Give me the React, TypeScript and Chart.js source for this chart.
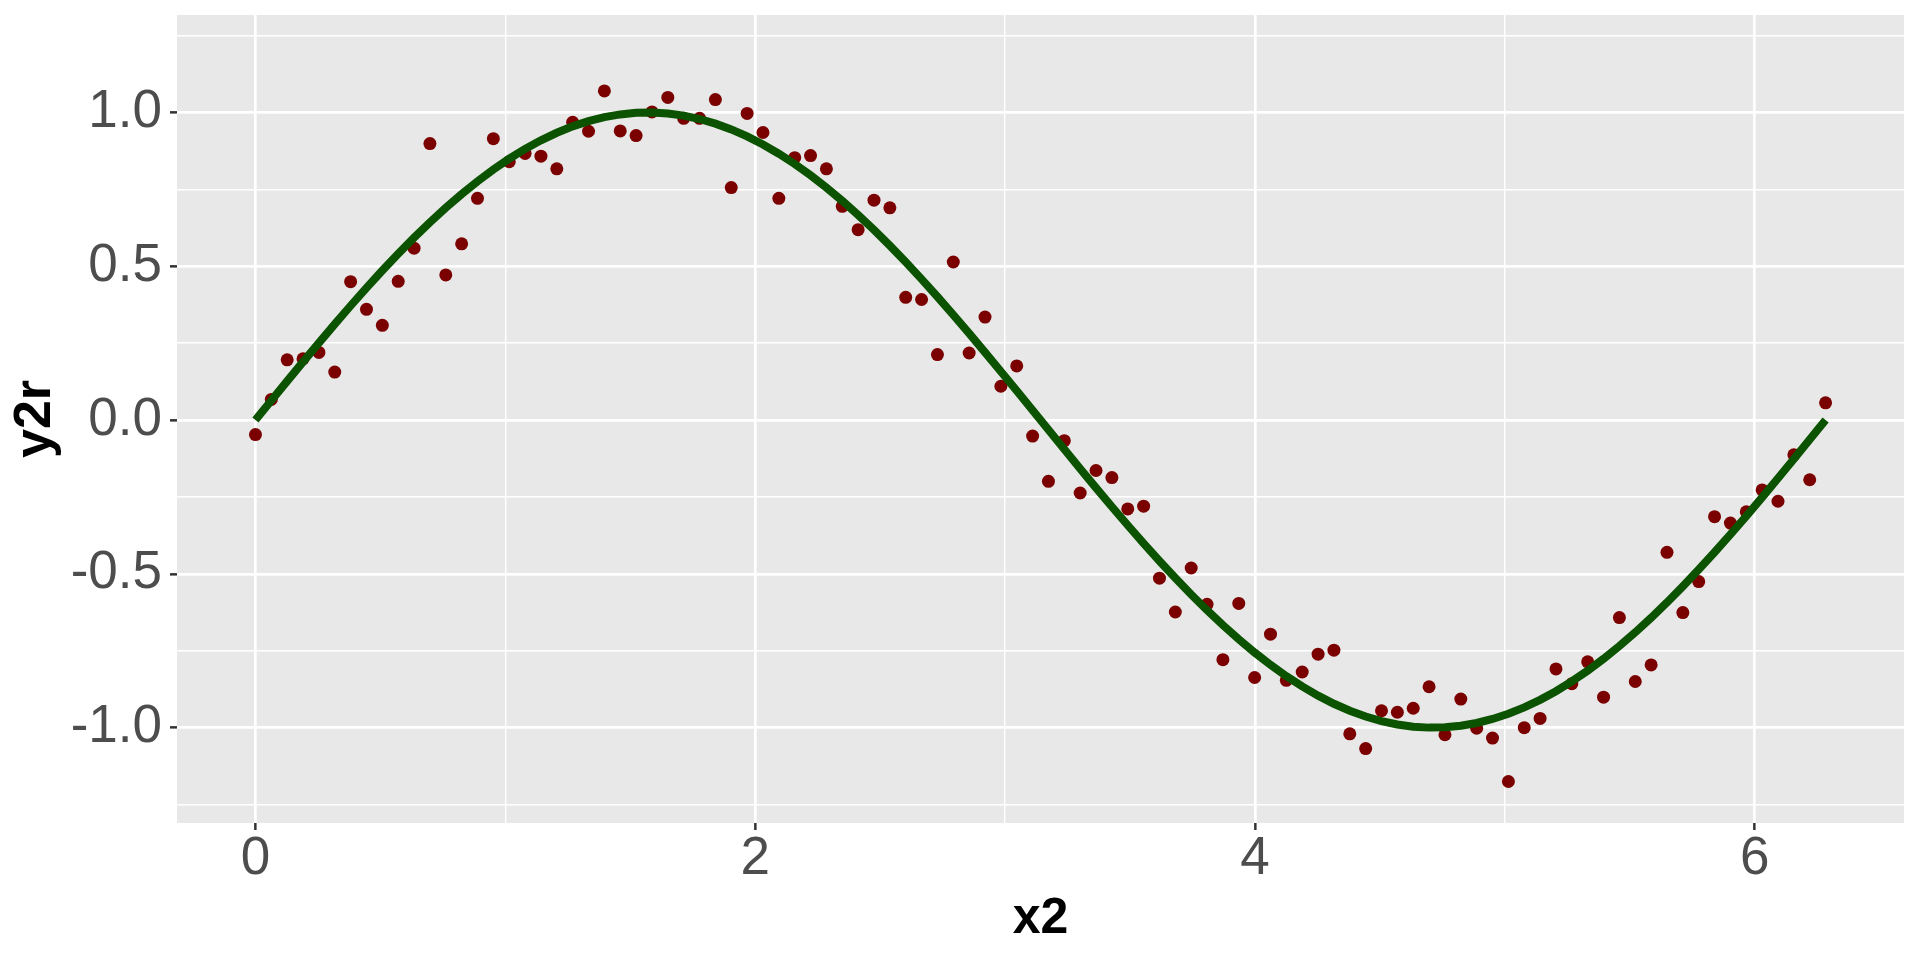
import React, { useEffect, useRef } from "react";
import { Chart, registerables } from "chart.js";

Chart.register(...registerables);

// ---- data ----
const x2: number[] = [
  0, 0.0635, 0.1269, 0.1904, 0.2539, 0.3173, 0.3808, 0.4443, 0.5077, 0.5712,
  0.6347, 0.6981, 0.7616, 0.8251, 0.8885, 0.952, 1.0155, 1.0789, 1.1424, 1.2059,
  1.2693, 1.3328, 1.3963, 1.4597, 1.5232, 1.5867, 1.6501, 1.7136, 1.7771, 1.8405,
  1.904, 1.9675, 2.0309, 2.0944, 2.1579, 2.2213, 2.2848, 2.3483, 2.4117, 2.4752,
  2.5387, 2.6021, 2.6656, 2.7291, 2.7925, 2.856, 2.9195, 2.9829, 3.0464, 3.1099,
  3.1733, 3.2368, 3.3003, 3.3637, 3.4272, 3.4907, 3.5541, 3.6176, 3.6811, 3.7445,
  3.808, 3.8715, 3.9349, 3.9984, 4.0619, 4.1253, 4.1888, 4.2523, 4.3157, 4.3792,
  4.4427, 4.5061, 4.5696, 4.6331, 4.6965, 4.76, 4.8235, 4.8869, 4.9504, 5.0139,
  5.0773, 5.1408, 5.2043, 5.2677, 5.3312, 5.3947, 5.4581, 5.5216, 5.5851, 5.6485,
  5.712, 5.7755, 5.8389, 5.9024, 5.9659, 6.0293, 6.0928, 6.1563, 6.2197, 6.2832,
];

const y2r: number[] = [
  -0.047, 0.067, 0.196, 0.199, 0.22, 0.156, 0.45, 0.36, 0.308, 0.451,
  0.559, 0.899, 0.472, 0.573, 0.721, 0.915, 0.84, 0.867, 0.858, 0.817,
  0.968, 0.939, 1.07, 0.94, 0.925, 1.002, 1.049, 0.981, 0.981, 1.042,
  0.756, 0.997, 0.935, 0.721, 0.853, 0.86, 0.817, 0.695, 0.619, 0.715,
  0.69, 0.399, 0.392, 0.213, 0.514, 0.218, 0.335, 0.11, 0.176, -0.052,
  -0.199, -0.067, -0.237, -0.164, -0.187, -0.289, -0.28, -0.514, -0.624, -0.481,
  -0.599, -0.779, -0.596, -0.837, -0.696, -0.846, -0.819, -0.761, -0.748, -1.02,
  -1.068, -0.945, -0.95, -0.937, -0.867, -1.023, -0.907, -1.002, -1.034, -1.175,
  -1.0, -0.97, -0.809, -0.857, -0.786, -0.901, -0.642, -0.85, -0.796, -0.43,
  -0.626, -0.525, -0.314, -0.335, -0.298, -0.227, -0.264, -0.113, -0.194, 0.056,
];

const fitY: number[] = [
  0, 0.0634, 0.1266, 0.1893, 0.2511, 0.312, 0.3717, 0.4298, 0.4862, 0.5406,
  0.5929, 0.6428, 0.6901, 0.7346, 0.7761, 0.8146, 0.8497, 0.8815, 0.9096, 0.9341,
  0.9549, 0.9718, 0.9848, 0.9938, 0.9989, 0.9999, 0.9969, 0.9898, 0.9788, 0.9638,
  0.945, 0.9224, 0.896, 0.866, 0.8326, 0.7958, 0.7557, 0.7127, 0.6668, 0.6182,
  0.5671, 0.5137, 0.4582, 0.4009, 0.342, 0.2817, 0.2203, 0.158, 0.0951, 0.0317,
  -0.0317, -0.0951, -0.158, -0.2203, -0.2817, -0.342, -0.4009, -0.4582, -0.5137, -0.5671,
  -0.6182, -0.6668, -0.7127, -0.7557, -0.7958, -0.8326, -0.866, -0.896, -0.9224, -0.945,
  -0.9638, -0.9788, -0.9898, -0.9969, -0.9999, -0.9989, -0.9938, -0.9848, -0.9718, -0.9549,
  -0.9341, -0.9096, -0.8815, -0.8497, -0.8146, -0.7761, -0.7346, -0.6901, -0.6428, -0.5929,
  -0.5406, -0.4862, -0.4298, -0.3717, -0.312, -0.2511, -0.1893, -0.1266, -0.0634, 0,
];

const xMajorTicks = [0, 2, 4, 6];
const xMinorTicks = [1, 3, 5];
const yMajorTicks = [-1, -0.5, 0, 0.5, 1];
const yMinorTicks = [-1.25, -0.75, -0.25, 0.25, 0.75, 1.25];
const xLimits = [-0.314, 6.597];
const yLimits = [-1.31, 1.317];
const xTitle = "x2";
const yTitle = "y2r";

// ---- styling ----
const W = 1920;
const H = 960;
const FONT = "'Liberation Sans', Arial, Helvetica, sans-serif";
const PANEL_BG = "#E8E8E8";
const GRID = "#FFFFFF";
const TICK_COLOR = "#333333";
const LABEL_COLOR = "#4D4D4D";
const POINT_COLOR = "#7B0000";
const LINE_COLOR = "#0B5300";

const panelBg = {
  id: "panelBg",
  beforeDraw(chart: any) {
    const { ctx, chartArea: a } = chart;
    ctx.save();
    ctx.fillStyle = PANEL_BG;
    ctx.fillRect(a.left, a.top, a.right - a.left, a.bottom - a.top);
    ctx.restore();
  },
};

const isIn = (arr: number[], v: number) => arr.some((t) => Math.abs(t - v) < 1e-9);

export default function App() {
  const ref = useRef<HTMLCanvasElement | null>(null);

  useEffect(() => {
    if (!ref.current) return;
    const chart = new Chart(ref.current, {
      type: "scatter",
      data: {
        datasets: [
          {
            label: "fit",
            data: x2.map((x, i) => ({ x, y: fitY[i] })),
            showLine: true,
            borderColor: LINE_COLOR,
            borderWidth: 8,
            pointRadius: 0,
            tension: 0,
            fill: false,
          } as any,
          {
            label: "y2r",
            data: x2.map((x, i) => ({ x, y: y2r[i] })),
            backgroundColor: POINT_COLOR,
            borderWidth: 0,
            pointRadius: 6.5,
          },
        ],
      },
      options: {
        responsive: false,
        animation: false,
        devicePixelRatio: 1,
        layout: { padding: { top: 15, right: 16, left: 0, bottom: 0 } },
        plugins: {
          legend: { display: false },
          tooltip: { enabled: false },
        },
        scales: {
          x: {
            type: "linear",
            min: xLimits[0],
            max: xLimits[1],
            afterBuildTicks: (s: any) => {
              s.ticks = [...xMajorTicks, ...xMinorTicks]
                .sort((a, b) => a - b)
                .map((v) => ({ value: v }));
            },
            afterFit: (s: any) => {
              s.height = 137;
              s.paddingLeft = 0;
              s.paddingRight = 0;
            },
            border: { display: false },
            grid: {
              color: GRID,
              lineWidth: (c: any) => (isIn(xMajorTicks, c.tick?.value) ? 2.7 : 1.4),
              tickColor: (c: any) =>
                isIn(xMajorTicks, c.tick?.value) ? TICK_COLOR : "rgba(0,0,0,0)",
              tickLength: 7,
              tickWidth: 2.5,
            },
            ticks: {
              autoSkip: false,
              maxRotation: 0,
              padding: 3,
              color: LABEL_COLOR,
              font: { family: FONT, size: 53, lineHeight: 1 },
              callback: (v: any) => (isIn(xMajorTicks, Number(v)) ? String(v) : ""),
            },
            title: {
              display: true,
              text: xTitle,
              color: "#000000",
              font: { family: FONT, size: 50, weight: "bold", lineHeight: 1 },
              padding: { top: 0, bottom: 16 },
            },
          },
          y: {
            type: "linear",
            min: yLimits[0],
            max: yLimits[1],
            afterBuildTicks: (s: any) => {
              s.ticks = [...yMajorTicks, ...yMinorTicks]
                .sort((a, b) => a - b)
                .map((v) => ({ value: v }));
            },
            afterFit: (s: any) => {
              s.width = 177;
              s.paddingTop = 0;
              s.paddingBottom = 0;
            },
            border: { display: false },
            grid: {
              color: GRID,
              lineWidth: (c: any) => (isIn(yMajorTicks, c.tick?.value) ? 2.7 : 1.4),
              tickColor: (c: any) =>
                isIn(yMajorTicks, c.tick?.value) ? TICK_COLOR : "rgba(0,0,0,0)",
              tickLength: 7,
              tickWidth: 2.5,
            },
            ticks: {
              autoSkip: false,
              padding: 8,
              color: LABEL_COLOR,
              font: { family: FONT, size: 53, lineHeight: 1 },
              callback: (v: any) =>
                isIn(yMajorTicks, Number(v)) ? Number(v).toFixed(1) : "",
            },
            title: {
              display: true,
              text: yTitle,
              color: "#000000",
              font: { family: FONT, size: 52, weight: "bold", lineHeight: 1 },
              padding: { top: 10, bottom: 0 },
            },
          },
        },
      },
      plugins: [panelBg],
    });
    return () => chart.destroy();
  }, []);

  return (
    <div style={{ position: "absolute", left: 0, top: 0, width: W, height: H, background: "#FFFFFF" }}>
      <canvas ref={ref} width={W} height={H} style={{ display: "block", width: W, height: H }} />
    </div>
  );
}
